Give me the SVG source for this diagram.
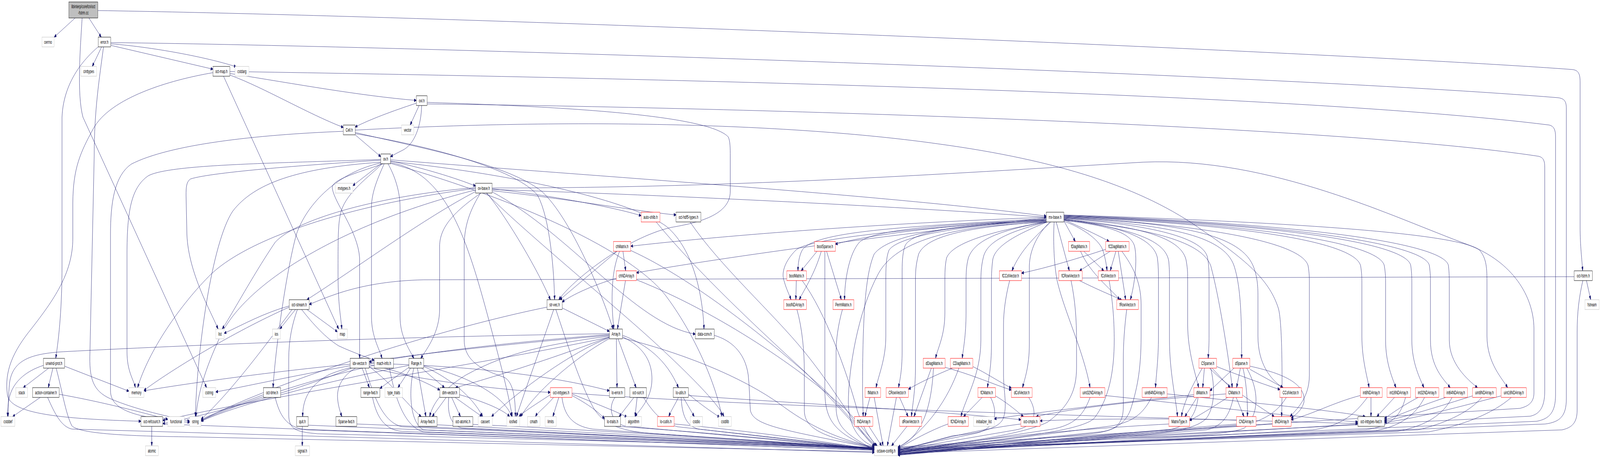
<svg xmlns="http://www.w3.org/2000/svg" width="7559" height="1172" viewBox="0 0 7559 1172" preserveAspectRatio="none">
<style>
svg{width:100vw;height:100vh;max-width:7559px;max-height:1172px}
.e{fill:none;stroke:#191970;stroke-width:1;marker-end:url(#a)}
rect{fill:#fff;stroke-width:1}
.b rect{stroke:#000}
.g rect{stroke:#bfbfbf}
.r rect{stroke:#f00}
text{font-family:"Liberation Sans",Arial,Helvetica,sans-serif;font-size:13px;text-anchor:middle;fill:#000}
</style>
<defs>
<marker id="a" viewBox="0 0 11 8" markerWidth="11" markerHeight="8" refX="10.5" refY="4" orient="auto" markerUnits="userSpaceOnUse"><path d="M0,0L11,4L0,8z" fill="#191970" stroke="#191970" stroke-width="1"/></marker>
</defs>
<rect x="0" y="0" width="7559" height="1172" fill="#fff" stroke="none"/>
<g id="edges">
<path class="e" d="M355,46 L256,95"/>
<path class="e" d="M420,46 L478,95"/>
<path class="e" d="M388,46 C380,120 362,240 392,300 L976,992"/>
<path class="e" d="M462,27 C2500,45 6500,140 7430,178 C7458,180 7465,190 7465,210 L7465,580 C7465,630 7474,665 7477,693"/>
<path class="e" d="M480,120 L436,170"/>
<path class="e" d="M523,112 C750,122 1000,150 1116,171"/>
<path class="e" d="M523,116 L1006,177"/>
<path class="e" d="M466,119 C420,140 300,200 293,300 L293,680 C293,780 280,860 263,917"/>
<path class="e" d="M489,120 C470,200 445,280 445,400 L425,900 C420,970 440,1000 520,1020 C650,1050 800,1066 896,1078"/>
<path class="e" d="M523,109 C2000,118 6000,190 7360,250 C7392,252 7400,260 7400,278 L7400,1020 C7400,1065 7370,1080 7300,1085 L4242,1152"/>
<path class="e" d="M1006,186 C800,205 520,250 440,330 C380,390 345,430 344,520 L344,610 C344,700 250,770 150,840 C60,900 20,950 35,1010 C45,1060 300,1072 666,1078"/>
<path class="e" d="M1056,195 L1600,842"/>
<path class="e" d="M1086,192 C1250,225 1450,290 1622,326"/>
<path class="e" d="M1086,188 C1400,215 1700,245 1967,257"/>
<path class="e" d="M1086,183 C2500,195 6000,230 7320,320 C7342,323 7349,333 7349,350 L7349,1010 C7349,1055 7320,1072 7260,1078 L4242,1148"/>
<path class="e" d="M1980,270 L1938,320"/>
<path class="e" d="M1992,270 C1990,320 1960,370 1900,385 C1878,391 1860,396 1845,401"/>
<path class="e" d="M1967,264 C1850,285 1750,305 1678,325"/>
<path class="e" d="M2018,262 C2800,275 3350,300 3440,350 C3450,360 3450,380 3450,400 L3450,490 C3450,550 3300,570 3170,582 C2950,610 2700,720 2640,767"/>
<path class="e" d="M2018,266 C3500,275 6300,320 7270,400 C7292,403 7298,412 7298,428 L7298,1000 C7298,1045 7270,1060 7230,1065 L4242,1146"/>
<path class="e" d="M1678,345 L1799,401"/>
<path class="e" d="M1622,336 C1200,345 800,370 620,420 C540,450 522,520 522,600 L522,1000 C522,1060 700,1070 896,1081"/>
<path class="e" d="M1678,339 C2000,380 2400,420 2560,490 C2700,560 2850,760 2896,842"/>
<path class="e" d="M1678,342 C2100,380 2450,440 2540,500 C2600,560 2618,700 2620,767"/>
<path class="e" d="M1678,333 C2800,300 3800,320 4430,368 C5000,410 5400,480 5682,590 C5900,670 6000,720 6040,790 C6060,830 6058,1000 6055,1066"/>
<path class="e" d="M1800,419 L1667,475"/>
<path class="e" d="M1805,419 C1750,450 1640,490 1612,540 C1597,570 1597,600 1597,700 C1597,780 1610,810 1615,842"/>
<path class="e" d="M1810,419 C1700,440 1560,460 1570,482 C1580,520 1690,590 1699,660 L1699,917"/>
<path class="e" d="M1815,419 C1790,450 1755,490 1755,530 L1755,810 C1755,860 1790,890 1805,917"/>
<path class="e" d="M1833,419 C1865,450 1890,490 1890,530 L1890,810 C1890,860 1930,890 1955,917"/>
<path class="e" d="M1845,412 C2000,430 2150,455 2247,476"/>
<path class="e" d="M1845,409 C2800,450 4200,500 4943,553"/>
<path class="e" d="M1799,410 C1500,420 1000,440 900,458 C880,465 879,480 879,500 L883,600 C890,700 1000,800 1030,842"/>
<path class="e" d="M1799,408 C1300,418 800,420 700,450 C620,480 600,540 600,650 L600,900 C600,950 630,970 640,992"/>
<path class="e" d="M1799,415 C1400,430 1200,470 1100,540 C1000,620 930,900 923,1066"/>
<path class="e" d="M1845,416 C2100,440 2200,600 2300,800 C2350,900 2400,1000 2420,1066"/>
<path class="e" d="M1799,417 C1600,440 1450,520 1400,600 C1350,700 1300,900 1290,992"/>
<path class="e" d="M1845,413 C2500,450 3000,520 3150,580 C3280,640 3320,760 3326,842"/>
<path class="e" d="M1845,418 C2500,520 3000,650 3150,760 C3300,870 3390,1000 3410,1066"/>
<path class="e" d="M2272,494 C2150,540 2077,580 2077,630 L2077,790 C2077,850 2020,890 1988,917"/>
<path class="e" d="M2270,494 C2230,530 2193,570 2193,630 L2193,870 C2193,930 2300,950 2380,965 C2420,975 2435,1010 2435,1066"/>
<path class="e" d="M2297,494 C2450,580 2900,780 3100,880 C3300,980 3400,1040 3420,1066"/>
<path class="e" d="M2247,490 C2000,560 1700,680 1450,767"/>
<path class="e" d="M2325,485 C3200,500 4300,530 4943,556"/>
<path class="e" d="M2325,483 C2600,500 2900,530 3029,552"/>
<path class="e" d="M2325,488 C2700,510 3000,540 3194,550"/>
<path class="e" d="M2300,494 C2400,560 2550,700 2600,767"/>
<path class="e" d="M2325,491 C2700,600 3000,830 3285,855"/>
<path class="e" d="M2247,480 C1800,500 1400,560 1300,620 C1200,700 1100,800 1050,842"/>
<path class="e" d="M2247,482 C1700,520 1200,600 1000,700 C850,780 700,900 650,992"/>
<path class="e" d="M2247,486 C1700,560 1200,700 1050,850 C980,930 935,1000 926,1066"/>
<path class="e" d="M2325,481 C3500,482 4600,440 5400,415 C6000,400 6600,560 6934,626 C7150,670 7245,760 7247,840 L7247,1005 C7247,1030 7220,1040 7180,1045 L4242,1144"/>
<path class="e" d="M4943,556 C4000,575 3300,610 2980,630"/>
<path class="e" d="M4943,558 C4200,600 3400,660 3007,698"/>
<path class="e" d="M4943,559 C4300,580 3850,590 3790,640 C3775,655 3770,675 3770,693"/>
<path class="e" d="M4943,561 C4300,585 3820,610 3760,640 C3705,670 3690,700 3705,720 C3715,740 3730,755 3737,767"/>
<path class="e" d="M4943,562 C4500,575 4100,600 3947,625"/>
<path class="e" d="M4943,563 C4400,575 4120,590 4060,620 C4010,650 3990,720 3990,767"/>
<path class="e" d="M4943,564 C4600,575 4250,600 4200,640 C4185,660 4185,690 4185,720 L4185,860 C4185,920 4150,960 4139,992"/>
<path class="e" d="M4943,565 C4500,575 4200,600 4130,650 C4090,700 4075,800 4075,1000 L4078,1066"/>
<path class="e" d="M4943,566 C4500,575 4300,595 4275,630 C4262,650 4262,680 4262,700 L4262,900 C4262,950 4250,975 4245,992"/>
<path class="e" d="M4943,567 C4600,580 4380,600 4340,650 C4325,680 4325,700 4325,720 L4325,940 C4325,1000 4310,1040 4306,1066"/>
<path class="e" d="M4943,568 C4700,590 4500,620 4472,660 C4464,680 4464,700 4464,720 L4464,800 C4464,860 4430,890 4420,917"/>
<path class="e" d="M4945,568 C4700,590 4600,620 4575,660 C4565,680 4564,700 4564,720 L4564,800 C4564,860 4550,895 4546,917"/>
<path class="e" d="M4946,568 C4750,595 4660,620 4645,660 C4636,680 4634,700 4634,720 L4634,870 C4634,960 4560,1020 4540,1066"/>
<path class="e" d="M4948,568 C4800,600 4700,630 4690,665 C4684,690 4684,710 4684,730 L4684,880 C4684,940 4670,970 4665,992"/>
<path class="e" d="M4965,568 C4900,600 4820,640 4781,693"/>
<path class="e" d="M4960,568 C4900,600 4865,640 4863,680 L4863,880 C4863,940 4840,970 4831,992"/>
<path class="e" d="M4943,569 C4600,575 4250,600 4150,700 C4050,800 4008,950 4008,1030 C4008,1090 4060,1130 4131,1143"/>
<path class="e" d="M5026,565 L5080,618"/>
<path class="e" d="M5026,562 C5100,580 5200,605 5240,618"/>
<path class="e" d="M4990,568 L5052,693"/>
<path class="e" d="M5026,566 C5100,580 5190,610 5210,640 C5222,660 5228,680 5230,693"/>
<path class="e" d="M5026,564 C5200,575 5340,590 5360,630 C5375,665 5360,730 5340,767"/>
<path class="e" d="M4980,568 C4975,620 4980,680 4995,720 C5030,800 5120,900 5150,992"/>
<path class="e" d="M5026,560 C5300,580 5450,610 5468,660 C5473,680 5473,700 5473,720 L5473,860 C5473,920 5462,960 5459,992"/>
<path class="e" d="M5026,562 C5350,585 5510,615 5522,670 C5525,690 5525,700 5525,720 L5525,870 C5525,950 5555,1020 5563,1066"/>
<path class="e" d="M5026,561 C5400,580 5590,610 5605,670 C5611,690 5611,700 5611,720 L5611,830 C5611,900 5650,960 5663,992"/>
<path class="e" d="M5026,559 C5450,575 5690,610 5705,660 C5712,680 5712,700 5712,720 L5712,860 C5712,890 5709,905 5708,917"/>
<path class="e" d="M5026,558 C5500,575 5780,600 5830,680 C5860,730 5866,800 5866,917"/>
<path class="e" d="M5026,563 C5450,585 5680,620 5720,680 C5760,760 5800,900 5822,992"/>
<path class="e" d="M5026,557 C5500,570 5850,590 5920,680 C5943,710 5943,740 5943,760 L5943,860 C5943,930 6000,970 6060,992"/>
<path class="e" d="M5026,556 C5700,575 6150,620 6180,680 C6186,700 6186,710 6186,730 L6186,960 C6186,1020 6120,1050 6095,1066"/>
<path class="e" d="M5026,555 C5900,575 6400,620 6428,680 C6434,700 6434,710 6434,730 L6434,860 C6434,920 6460,965 6468,992"/>
<path class="e" d="M5026,554 C6000,575 6520,625 6540,680 C6546,700 6546,710 6546,730 L6546,870 C6546,930 6580,970 6595,992"/>
<path class="e" d="M5026,553 C6100,575 6650,625 6665,680 C6670,700 6670,710 6670,730 L6670,870 C6670,930 6710,970 6727,992"/>
<path class="e" d="M5026,552 C6200,575 6740,630 6753,680 C6758,700 6758,710 6758,730 L6758,870 C6758,940 6820,970 6851,992"/>
<path class="e" d="M5026,551 C6300,575 6830,630 6843,680 C6847,700 6847,710 6847,730 L6847,870 C6847,930 6930,970 6980,992"/>
<path class="e" d="M5026,550 C6200,570 6900,600 6990,640 C7020,660 7025,680 7025,720 L7025,860 C7025,930 7100,970 7122,992"/>
<path class="e" d="M3860,643 L3785,693"/>
<path class="e" d="M3762,718 L3760,767"/>
<path class="e" d="M3880,643 C3850,700 3800,740 3776,767"/>
<path class="e" d="M3905,643 L3975,767"/>
<path class="e" d="M4110,1017 L4086,1066"/>
<path class="e" d="M4250,1017 L4290,1066"/>
<path class="e" d="M4400,942 L4318,1066"/>
<path class="e" d="M4465,940 C4600,960 4700,985 4778,998"/>
<path class="e" d="M4596,938 C4660,955 4730,980 4778,993"/>
<path class="e" d="M4500,942 C4420,960 4340,980 4292,996"/>
<path class="e" d="M4640,1017 L4552,1066"/>
<path class="e" d="M4703,1013 C4770,1035 4810,1055 4835,1066"/>
<path class="e" d="M5224,638 C5100,660 4950,685 4826,699"/>
<path class="e" d="M5120,643 L5215,693"/>
<path class="e" d="M5272,643 L5245,693"/>
<path class="e" d="M5245,643 L5100,693"/>
<path class="e" d="M5105,643 C5150,700 5250,740 5290,767"/>
<path class="e" d="M5283,643 L5318,767"/>
<path class="e" d="M5100,718 C5180,740 5250,755 5300,768"/>
<path class="e" d="M5690,942 L5682,992"/>
<path class="e" d="M5726,942 L5812,992"/>
<path class="e" d="M5748,938 C5850,960 5980,985 6047,997"/>
<path class="e" d="M5714,942 C5800,990 5950,1040 6020,1066"/>
<path class="e" d="M5830,942 L5716,1000"/>
<path class="e" d="M5860,942 L5842,992"/>
<path class="e" d="M5872,942 C5890,980 5895,1040 5893,1066"/>
<path class="e" d="M5905,945 L6062,992"/>
<path class="e" d="M5905,937 C6100,960 6170,990 6160,1030 C6150,1050 6120,1062 6100,1070"/>
<path class="e" d="M5840,1017 L5877,1066"/>
<path class="e" d="M5655,1017 L5598,1066"/>
<path class="e" d="M5680,942 C5640,980 5590,1030 5582,1066"/>
<path class="e" d="M5800,1017 C5720,1045 5660,1065 5620,1076"/>
<path class="e" d="M5792,1008 C5500,1020 5100,1040 4895,1066"/>
<path class="e" d="M5842,1075 C5500,1070 5100,1072 4914,1077"/>
<path class="e" d="M5640,1010 C5300,1030 4900,1055 4697,1072"/>
<path class="e" d="M6477,1017 L6477,1066"/>
<path class="e" d="M6588,1017 L6505,1066"/>
<path class="e" d="M6700,1017 C6620,1040 6570,1060 6541,1071"/>
<path class="e" d="M6830,1017 C6700,1040 6600,1065 6541,1075"/>
<path class="e" d="M6957,1013 C6800,1040 6650,1065 6541,1078"/>
<path class="e" d="M7092,1013 C6900,1040 6700,1070 6541,1081"/>
<path class="e" d="M5514,1008 C5900,1030 6300,1050 6450,1066"/>
<path class="e" d="M5220,1012 C5700,1040 6100,1065 6415,1080"/>
<path class="e" d="M2702,1006 C3500,1040 5500,1070 6415,1084"/>
<path class="e" d="M6427,1012 C6300,1030 6200,1060 6100,1074"/>
<path class="e" d="M7495,718 L7515,767"/>
<path class="e" d="M7437,708 L2000,716 C1700,720 1550,760 1461,779"/>
<path class="e" d="M7478,718 C7460,760 7451,800 7451,850 L7451,1050 C7451,1085 7420,1095 7380,1100 L4242,1160"/>
<path class="e" d="M2915,643 L2645,767"/>
<path class="e" d="M2927,643 C2900,680 2890,720 2892,780 C2894,810 2898,830 2900,842"/>
<path class="e" d="M2943,643 L2956,693"/>
<path class="e" d="M2955,718 L2917,842"/>
<path class="e" d="M2912,712 C2800,730 2700,755 2656,773"/>
<path class="e" d="M2656,788 L2879,848"/>
<path class="e" d="M2616,792 C2560,880 2480,1000 2440,1066"/>
<path class="e" d="M2584,786 C2000,850 1200,1000 950,1077"/>
<path class="e" d="M2912,867 L2915,992"/>
<path class="e" d="M2920,867 L3005,992"/>
<path class="e" d="M2941,862 C3050,890 3080,930 3080,970 C3080,1020 3020,1050 3000,1066"/>
<path class="e" d="M2879,864 C2700,900 2450,1000 2322,1066"/>
<path class="e" d="M2880,866 C2700,920 2520,1010 2460,1066"/>
<path class="e" d="M2879,862 C2600,920 2300,970 2152,992"/>
<path class="e" d="M2879,858 C2400,880 1900,910 1744,926"/>
<path class="e" d="M2879,860 C2600,880 2400,900 2200,960 C2080,1000 2040,1040 2030,1066"/>
<path class="e" d="M2879,856 C2300,880 1700,920 1550,960 C1450,990 1430,1030 1430,1066"/>
<path class="e" d="M2941,858 C3050,880 3150,920 3205,992"/>
<path class="e" d="M2879,863 C2200,940 1300,1010 769,1076"/>
<path class="e" d="M2879,854 C2000,860 1000,880 300,900 C150,905 60,920 45,980 C40,1010 38,1040 38,1066"/>
<path class="e" d="M1711,942 L1745,992"/>
<path class="e" d="M1680,942 C1620,960 1590,990 1595,1020 C1598,1040 1608,1055 1615,1066"/>
<path class="e" d="M1744,933 C1900,950 2000,975 2078,998"/>
<path class="e" d="M1744,938 C1850,980 1950,1050 1990,1066"/>
<path class="e" d="M1654,932 C1300,950 900,980 680,1000"/>
<path class="e" d="M1654,936 C1400,960 1150,990 1019,1003"/>
<path class="e" d="M1744,940 C2000,975 2400,1000 2600,1004"/>
<path class="e" d="M1744,930 C2200,935 2600,960 2879,1000"/>
<path class="e" d="M1660,942 C1400,1000 1000,1060 769,1084"/>
<path class="e" d="M1768,935 C1400,980 1100,1040 950,1076"/>
<path class="e" d="M1940,942 L1880,992"/>
<path class="e" d="M1932,940 C1880,960 1830,980 1795,994"/>
<path class="e" d="M1396,792 L1322,842"/>
<path class="e" d="M1450,792 L1594,849"/>
<path class="e" d="M1425,792 C1480,830 1540,865 1600,885 C1680,905 1740,915 1768,922"/>
<path class="e" d="M1366,783 C1250,800 1150,830 1059,853"/>
<path class="e" d="M1380,792 C1300,850 1100,1000 950,1073"/>
<path class="e" d="M1366,786 C1100,850 800,950 680,999"/>
<path class="e" d="M1405,792 C1380,830 1364,870 1364,920 L1364,1060 C1364,1100 1400,1105 1500,1110 L4131,1146"/>
<path class="e" d="M1245,1010 C1100,1040 1000,1060 950,1074"/>
<path class="e" d="M1992,942 L2100,992"/>
<path class="e" d="M1972,942 L2012,1066"/>
<path class="e" d="M2002,938 C2100,960 2230,1010 2280,1066"/>
<path class="e" d="M2002,936 C2200,960 2380,1010 2418,1066"/>
<path class="e" d="M1932,935 C1500,980 1100,1040 950,1078"/>
<path class="e" d="M2108,1017 L2042,1066"/>
<path class="e" d="M2134,1017 L2175,1066"/>
<path class="e" d="M2150,1017 L2277,1066"/>
<path class="e" d="M2171,1010 C2300,1030 2380,1050 2408,1066"/>
<path class="e" d="M2640,1017 L2612,1066"/>
<path class="e" d="M2702,1012 C2780,1035 2830,1055 2856,1072"/>
<path class="e" d="M2702,1008 C2800,1030 2900,1050 2962,1067"/>
<path class="e" d="M2615,1017 C2580,1040 2540,1055 2530,1066"/>
<path class="e" d="M2600,1010 C2530,1035 2470,1055 2452,1066"/>
<path class="e" d="M2995,1017 L2925,1066"/>
<path class="e" d="M3010,1017 L3000,1066"/>
<path class="e" d="M3228,1017 L3280,1066"/>
<path class="e" d="M3252,1008 C3320,1040 3380,1060 3400,1068"/>
<path class="e" d="M3205,1017 C3190,1035 3170,1050 3160,1066"/>
<path class="e" d="M3252,1012 C3700,1030 4400,1050 4823,1074"/>
<path class="e" d="M230,942 L110,992"/>
<path class="e" d="M250,942 L228,992"/>
<path class="e" d="M305,937 L609,1001"/>
<path class="e" d="M205,935 C120,950 50,980 40,1030 C37,1045 36,1055 36,1066"/>
<path class="e" d="M190,1017 L60,1066"/>
<path class="e" d="M280,1009 C500,1030 700,1060 793,1073"/>
<path class="e" d="M717,1091 L717,1141"/>
<path class="e" d="M1428,1091 L1428,1141"/>
<path class="e" d="M265,942 C290,990 310,1060 340,1090 C380,1110 600,1116 900,1118 L4131,1156"/>
<path class="e" d="M225,1017 C260,1060 290,1092 340,1098 L4131,1158"/>
<path class="e" d="M769,1085 C1500,1100 3000,1130 4131,1152"/>
<path class="e" d="M1456,1088 C2200,1105 3200,1125 4131,1151"/>
<path class="e" d="M1686,1085 C2400,1100 3300,1125 4131,1150"/>
<path class="e" d="M2065,1087 C2700,1105 3500,1125 4131,1149"/>
<path class="e" d="M2234,1086 C2800,1100 3500,1125 4131,1148"/>
<path class="e" d="M2120,1017 C2115,1050 2120,1085 2180,1095 L4131,1147"/>
<path class="e" d="M1955,942 C1930,1000 1935,1080 2000,1100 L4131,1146"/>
<path class="e" d="M1725,942 C1760,1000 1800,1080 1900,1092 L4131,1145"/>
<path class="e" d="M1840,942 C1860,1000 1900,1090 2000,1105 L4131,1147"/>
<path class="e" d="M1760,1017 C1780,1070 1820,1100 1900,1104 L4131,1149"/>
<path class="e" d="M1300,1017 C1320,1060 1350,1095 1450,1100 L4131,1152"/>
<path class="e" d="M2626,792 C2680,880 2740,980 2800,1040 C2850,1090 2950,1105 3100,1110 L4131,1147"/>
<path class="e" d="M2941,865 C3200,900 3500,960 3700,1040 C3850,1100 4000,1130 4131,1144"/>
<path class="e" d="M2655,1017 C2665,1060 2700,1090 2800,1098 L4131,1150"/>
<path class="e" d="M2905,1017 C2870,1045 2890,1080 2950,1090 L4131,1149"/>
<path class="e" d="M3040,1017 C3080,1050 3120,1080 3200,1092 L4131,1148"/>
<path class="e" d="M2920,1091 C3300,1105 3800,1130 4131,1150"/>
<path class="e" d="M3218,1017 C3222,1060 3240,1090 3300,1098 L4131,1150"/>
<path class="e" d="M3185,1085 C3500,1100 3900,1130 4131,1151"/>
<path class="e" d="M3374,858 C3450,870 3520,900 3535,960 C3541,990 3541,1020 3545,1050 C3560,1090 3700,1100 4131,1147"/>
<path class="e" d="M3260,568 C3400,680 3650,800 3800,900 C3950,1000 4050,1100 4131,1143"/>
<path class="e" d="M3100,568 C3300,700 3600,850 3800,950 C3950,1030 4050,1100 4135,1141"/>
<path class="e" d="M2980,641 C3300,720 3700,900 3900,1000 C4000,1060 4080,1110 4138,1141"/>
<path class="e" d="M3007,716 C3400,800 3800,950 4000,1050 C4070,1090 4110,1120 4142,1141"/>
<path class="e" d="M3790,718 C3900,800 4000,950 4050,1050 C4080,1100 4120,1130 4145,1141"/>
<path class="e" d="M3765,792 C3790,840 3800,900 3800,950 L3800,1050 C3800,1100 3900,1120 4131,1145"/>
<path class="e" d="M3897,643 L3897,1000 C3897,1080 3950,1110 4131,1150"/>
<path class="e" d="M3980,792 C3960,830 3950,870 3950,900 L3950,1040 C3950,1090 3990,1110 4131,1151"/>
<path class="e" d="M4130,1017 L4172,1141"/>
<path class="e" d="M4105,1091 L4165,1141"/>
<path class="e" d="M4235,1017 L4192,1141"/>
<path class="e" d="M4285,1091 L4212,1141"/>
<path class="e" d="M4410,942 C4400,1050 4350,1120 4242,1144"/>
<path class="e" d="M4530,942 C4480,1020 4380,1100 4242,1146"/>
<path class="e" d="M4479,1085 C4400,1100 4300,1130 4242,1148"/>
<path class="e" d="M4680,1017 C4720,1060 4700,1100 4600,1110 L4242,1150"/>
<path class="e" d="M4860,1017 C4900,1050 4900,1090 4800,1100 L4242,1152"/>
<path class="e" d="M4823,1085 C4600,1100 4400,1130 4242,1153"/>
<path class="e" d="M4770,718 C4750,760 4741,800 4741,830 L4741,960 C4741,1000 4760,1040 4740,1070 C4720,1100 4600,1110 4500,1115 L4242,1154"/>
<path class="e" d="M5060,718 C5080,770 5086,820 5086,870 L5086,940 C5086,1000 5050,1040 4950,1080 C4800,1120 4400,1140 4242,1155"/>
<path class="e" d="M5240,718 C5260,780 5264,830 5264,870 C5264,950 5240,1020 5170,1070 C5100,1110 4600,1130 4242,1156"/>
<path class="e" d="M5323,792 C5312,840 5307,880 5307,920 L5307,1040 C5307,1080 5280,1100 5200,1105 L4242,1157"/>
<path class="e" d="M5300,643 C5350,680 5391,720 5391,780 L5391,860 C5391,950 5370,1000 5340,1050 C5310,1090 5250,1105 5150,1110 L4242,1158"/>
<path class="e" d="M5150,1017 C5120,1060 5080,1090 4950,1100 L4242,1158"/>
<path class="e" d="M5440,1017 C5400,1060 5350,1080 5250,1090 L4242,1159"/>
<path class="e" d="M5522,1085 C5000,1100 4500,1130 4242,1160"/>
<path class="e" d="M5660,1017 C5650,1060 5620,1090 5520,1100 L4242,1161"/>
<path class="e" d="M5720,942 C5740,990 5740,1040 5700,1070 C5650,1100 5500,1110 5300,1115 L4242,1162"/>
<path class="e" d="M5890,942 C5950,1000 5950,1060 5880,1095 C5800,1115 5500,1118 5300,1120 L4242,1163"/>
<path class="e" d="M5827,1017 C5810,1060 5780,1090 5700,1100 L4242,1164"/>
<path class="e" d="M6077,1017 C6040,1050 5990,1070 5900,1085 L4242,1165"/>
<path class="e" d="M5842,1085 C5500,1100 4800,1130 4242,1164"/>
<path class="e" d="M6011,1085 C5500,1105 4800,1130 4242,1162"/>
<path class="e" d="M6460,1017 C6400,1060 6340,1090 6200,1100 L4242,1160"/>
<path class="e" d="M6640,1017 C6620,1060 6580,1090 6450,1100 L4242,1158"/>
<path class="e" d="M6730,1017 C6690,1060 6620,1090 6500,1102 L4242,1156"/>
<path class="e" d="M6860,1017 C6820,1060 6740,1090 6600,1104 L4242,1154"/>
<path class="e" d="M7000,1017 C6950,1050 6850,1080 6700,1100 L4242,1152"/>
<path class="e" d="M7140,1017 C7050,1060 6900,1090 6750,1105 L4242,1150"/>
<path class="e" d="M6415,1085 C6000,1100 5000,1130 4242,1150"/>
</g>
<g id="node-root"><rect x="325" y="5" width="137" height="41" style="fill:#bfbfbf;stroke:#000"/><text x="393.5" y="21">libinterp/corefcn/oct</text><text x="393.5" y="37">-fstrm.cc</text></g>
<g id="node-cerrno" class="g"><rect x="198" y="95" width="58" height="25"/><text x="227" y="112">cerrno</text></g>
<g id="node-error-h" class="b"><rect x="464" y="95" width="59" height="25"/><text x="493.5" y="112">error.h</text></g>
<g id="node-cinttypes" class="g"><rect x="382" y="170" width="74" height="25"/><text x="419" y="187">cinttypes</text></g>
<g id="node-oct-map-h" class="b"><rect x="1006" y="170" width="80" height="25"/><text x="1046" y="187">oct-map.h</text></g>
<g id="node-cstdarg" class="g"><rect x="1110" y="170" width="66" height="25"/><text x="1143" y="187">cstdarg</text></g>
<g id="node-ovl-h" class="b"><rect x="1967" y="245" width="51" height="25"/><text x="1992.5" y="262">ovl.h</text></g>
<g id="node-Cell-h" class="b"><rect x="1622" y="320" width="56" height="25"/><text x="1650" y="337">Cell.h</text></g>
<g id="node-vector" class="g"><rect x="1897" y="320" width="58" height="25"/><text x="1926" y="337">vector</text></g>
<g id="node-ov-h" class="b"><rect x="1799" y="394" width="46" height="25"/><text x="1822" y="411">ov.h</text></g>
<g id="node-mxtypes-h" class="g"><rect x="1584" y="469" width="83" height="25"/><text x="1625.5" y="486">mxtypes.h</text></g>
<g id="node-ov-base-h" class="b"><rect x="2247" y="469" width="78" height="25"/><text x="2286" y="486">ov-base.h</text></g>
<g id="node-auto-shlib-h" class="r"><rect x="3029" y="543" width="89" height="25"/><text x="3073.5" y="560">auto-shlib.h</text></g>
<g id="node-oct-hdf5-types-h" class="b"><rect x="3194" y="543" width="117" height="25"/><text x="3252.5" y="560">oct-hdf5-types.h</text></g>
<g id="node-mx-base-h" class="b"><rect x="4943" y="543" width="83" height="25"/><text x="4984.5" y="560">mx-base.h</text></g>
<g id="node-chMatrix-h" class="r"><rect x="2898" y="618" width="82" height="25"/><text x="2939" y="635">chMatrix.h</text></g>
<g id="node-boolSparse-h" class="r"><rect x="3848" y="618" width="99" height="25"/><text x="3897.5" y="635">boolSparse.h</text></g>
<g id="node-fDiagMatrix-h" class="r"><rect x="5048" y="618" width="100" height="25"/><text x="5098" y="635">fDiagMatrix.h</text></g>
<g id="node-fCDiagMatrix-h" class="r"><rect x="5224" y="618" width="110" height="25"/><text x="5279" y="635">fCDiagMatrix.h</text></g>
<g id="node-chNDArray-h" class="r"><rect x="2912" y="693" width="95" height="25"/><text x="2959.5" y="710">chNDArray.h</text></g>
<g id="node-boolMatrix-h" class="r"><rect x="3717" y="693" width="93" height="25"/><text x="3763.5" y="710">boolMatrix.h</text></g>
<g id="node-fCColVector-h" class="r"><rect x="4722" y="693" width="104" height="25"/><text x="4774" y="710">fCColVector.h</text></g>
<g id="node-fCRowVector-h" class="r"><rect x="5002" y="693" width="111" height="25"/><text x="5057.5" y="710">fCRowVector.h</text></g>
<g id="node-fColVector-h" class="r"><rect x="5189" y="693" width="95" height="25"/><text x="5236.5" y="710">fColVector.h</text></g>
<g id="node-oct-fstrm-h" class="b"><rect x="7437" y="693" width="86" height="25"/><text x="7480" y="710">oct-fstrm.h</text></g>
<g id="node-oct-stream-h" class="b"><rect x="1366" y="767" width="95" height="25"/><text x="1413.5" y="784">oct-stream.h</text></g>
<g id="node-str-vec-h" class="b"><rect x="2584" y="767" width="72" height="25"/><text x="2620" y="784">str-vec.h</text></g>
<g id="node-boolNDArray-h" class="r"><rect x="3703" y="767" width="107" height="25"/><text x="3756.5" y="784">boolNDArray.h</text></g>
<g id="node-PermMatrix-h" class="r"><rect x="3935" y="767" width="99" height="25"/><text x="3984.5" y="784">PermMatrix.h</text></g>
<g id="node-fRowVector-h" class="r"><rect x="5276" y="767" width="102" height="25"/><text x="5327" y="784">fRowVector.h</text></g>
<g id="node-fstream" class="g"><rect x="7488" y="767" width="67" height="25"/><text x="7521.5" y="784">fstream</text></g>
<g id="node-list" class="g"><rect x="1020" y="842" width="39" height="25"/><text x="1039.5" y="859">list</text></g>
<g id="node-ios" class="g"><rect x="1287" y="842" width="38" height="25"/><text x="1306" y="859">ios</text></g>
<g id="node-map" class="g"><rect x="1594" y="842" width="47" height="25"/><text x="1617.5" y="859">map</text></g>
<g id="node-Array-h" class="b"><rect x="2879" y="842" width="62" height="25"/><text x="2910" y="859">Array.h</text></g>
<g id="node-data-conv-h" class="b"><rect x="3285" y="842" width="89" height="25"/><text x="3329.5" y="859">data-conv.h</text></g>
<g id="node-unwind-prot-h" class="b"><rect x="205" y="917" width="100" height="25"/><text x="255" y="934">unwind-prot.h</text></g>
<g id="node-idx-vector-h" class="b"><rect x="1654" y="917" width="90" height="25"/><text x="1699" y="934">idx-vector.h</text></g>
<g id="node-mach-info-h" class="b"><rect x="1768" y="917" width="91" height="25"/><text x="1813.5" y="934">mach-info.h</text></g>
<g id="node-Range-h" class="b"><rect x="1932" y="917" width="70" height="25"/><text x="1967" y="934">Range.h</text></g>
<g id="node-dDiagMatrix-h" class="r"><rect x="4362" y="917" width="103" height="25"/><text x="4413.5" y="934">dDiagMatrix.h</text></g>
<g id="node-CDiagMatrix-h" class="r"><rect x="4490" y="917" width="106" height="25"/><text x="4543" y="934">CDiagMatrix.h</text></g>
<g id="node-CSparse-h" class="r"><rect x="5664" y="917" width="84" height="25"/><text x="5706" y="934">CSparse.h</text></g>
<g id="node-dSparse-h" class="r"><rect x="5824" y="917" width="81" height="25"/><text x="5864.5" y="934">dSparse.h</text></g>
<g id="node-stack" class="g"><rect x="75" y="992" width="55" height="25"/><text x="102.5" y="1009">stack</text></g>
<g id="node-action-container-h" class="b"><rect x="154" y="992" width="126" height="25"/><text x="217" y="1009">action-container.h</text></g>
<g id="node-memory" class="g"><rect x="609" y="992" width="71" height="25"/><text x="644.5" y="1009">memory</text></g>
<g id="node-cstring" class="g"><rect x="958" y="992" width="61" height="25"/><text x="988.5" y="1009">cstring</text></g>
<g id="node-oct-time-h" class="b"><rect x="1245" y="992" width="81" height="25"/><text x="1285.5" y="1009">oct-time.h</text></g>
<g id="node-range-fwd-h" class="b"><rect x="1705" y="992" width="90" height="25"/><text x="1750" y="1009">range-fwd.h</text></g>
<g id="node-type_traits" class="g"><rect x="1819" y="992" width="83" height="25"/><text x="1860.5" y="1009">type_traits</text></g>
<g id="node-dim-vector-h" class="b"><rect x="2078" y="992" width="93" height="25"/><text x="2124.5" y="1009">dim-vector.h</text></g>
<g id="node-oct-inttypes-h" class="r"><rect x="2600" y="992" width="102" height="25"/><text x="2651" y="1009">oct-inttypes.h</text></g>
<g id="node-lo-error-h" class="b"><rect x="2879" y="992" width="73" height="25"/><text x="2915.5" y="1009">lo-error.h</text></g>
<g id="node-oct-sort-h" class="b"><rect x="2976" y="992" width="78" height="25"/><text x="3015" y="1009">oct-sort.h</text></g>
<g id="node-lo-utils-h" class="b"><rect x="3181" y="992" width="71" height="25"/><text x="3216.5" y="1009">lo-utils.h</text></g>
<g id="node-fMatrix-h" class="r"><rect x="4087" y="992" width="74" height="25"/><text x="4124" y="1009">fMatrix.h</text></g>
<g id="node-CRowVector-h" class="r"><rect x="4186" y="992" width="106" height="25"/><text x="4239" y="1009">CRowVector.h</text></g>
<g id="node-fCMatrix-h" class="r"><rect x="4620" y="992" width="83" height="25"/><text x="4661.5" y="1009">fCMatrix.h</text></g>
<g id="node-dColVector-h" class="r"><rect x="4778" y="992" width="98" height="25"/><text x="4827" y="1009">dColVector.h</text></g>
<g id="node-uint32NDArray-h" class="r"><rect x="5103" y="992" width="117" height="25"/><text x="5161.5" y="1009">uint32NDArray.h</text></g>
<g id="node-uint64NDArray-h" class="r"><rect x="5396" y="992" width="118" height="25"/><text x="5455" y="1009">uint64NDArray.h</text></g>
<g id="node-dMatrix-h" class="r"><rect x="5640" y="992" width="76" height="25"/><text x="5678" y="1009">dMatrix.h</text></g>
<g id="node-CMatrix-h" class="r"><rect x="5792" y="992" width="78" height="25"/><text x="5831" y="1009">CMatrix.h</text></g>
<g id="node-CColVector-h" class="r"><rect x="6047" y="992" width="101" height="25"/><text x="6097.5" y="1009">CColVector.h</text></g>
<g id="node-int8NDArray-h" class="r"><rect x="6427" y="992" width="103" height="25"/><text x="6478.5" y="1009">int8NDArray.h</text></g>
<g id="node-int16NDArray-h" class="r"><rect x="6553" y="992" width="111" height="25"/><text x="6608.5" y="1009">int16NDArray.h</text></g>
<g id="node-int32NDArray-h" class="r"><rect x="6687" y="992" width="111" height="25"/><text x="6742.5" y="1009">int32NDArray.h</text></g>
<g id="node-int64NDArray-h" class="r"><rect x="6822" y="992" width="111" height="25"/><text x="6877.5" y="1009">int64NDArray.h</text></g>
<g id="node-uint8NDArray-h" class="r"><rect x="6957" y="992" width="112" height="25"/><text x="7013" y="1009">uint8NDArray.h</text></g>
<g id="node-uint16NDArray-h" class="r"><rect x="7092" y="992" width="119" height="25"/><text x="7151.5" y="1009">uint16NDArray.h</text></g>
<g id="node-cstddef" class="g"><rect x="5" y="1066" width="65" height="25"/><text x="37.5" y="1083">cstddef</text></g>
<g id="node-oct-refcount-h" class="b"><rect x="666" y="1066" width="103" height="25"/><text x="717.5" y="1083">oct-refcount.h</text></g>
<g id="node-functional" class="g"><rect x="793" y="1066" width="78" height="25"/><text x="832" y="1083">functional</text></g>
<g id="node-string" class="g"><rect x="896" y="1066" width="54" height="25"/><text x="923" y="1083">string</text></g>
<g id="node-quit-h" class="b"><rect x="1401" y="1066" width="55" height="25"/><text x="1428.5" y="1083">quit.h</text></g>
<g id="node-Sparse-fwd-h" class="b"><rect x="1587" y="1066" width="99" height="25"/><text x="1636.5" y="1083">Sparse-fwd.h</text></g>
<g id="node-Array-fwd-h" class="b"><rect x="1976" y="1066" width="89" height="25"/><text x="2020.5" y="1083">Array-fwd.h</text></g>
<g id="node-oct-atomic-h" class="b"><rect x="2140" y="1066" width="94" height="25"/><text x="2187" y="1083">oct-atomic.h</text></g>
<g id="node-cassert" class="g"><rect x="2259" y="1066" width="67" height="25"/><text x="2292.5" y="1083">cassert</text></g>
<g id="node-iosfwd" class="g"><rect x="2394" y="1066" width="61" height="25"/><text x="2424.5" y="1083">iosfwd</text></g>
<g id="node-cmath" class="g"><rect x="2492" y="1066" width="59" height="25"/><text x="2521.5" y="1083">cmath</text></g>
<g id="node-limits" class="g"><rect x="2575" y="1066" width="53" height="25"/><text x="2601.5" y="1083">limits</text></g>
<g id="node-lo-traits-h" class="b"><rect x="2856" y="1066" width="76" height="25"/><text x="2894" y="1083">lo-traits.h</text></g>
<g id="node-algorithm" class="g"><rect x="2956" y="1066" width="75" height="25"/><text x="2993.5" y="1083">algorithm</text></g>
<g id="node-lo-cutils-h" class="r"><rect x="3106" y="1066" width="79" height="25"/><text x="3145.5" y="1083">lo-cutils.h</text></g>
<g id="node-cstdio" class="g"><rect x="3261" y="1066" width="58" height="25"/><text x="3290" y="1083">cstdio</text></g>
<g id="node-cstdlib" class="g"><rect x="3395" y="1066" width="60" height="25"/><text x="3425" y="1083">cstdlib</text></g>
<g id="node-fNDArray-h" class="r"><rect x="4037" y="1066" width="87" height="25"/><text x="4080.5" y="1083">fNDArray.h</text></g>
<g id="node-dRowVector-h" class="r"><rect x="4250" y="1066" width="104" height="25"/><text x="4302" y="1083">dRowVector.h</text></g>
<g id="node-fCNDArray-h" class="r"><rect x="4479" y="1066" width="96" height="25"/><text x="4527" y="1083">fCNDArray.h</text></g>
<g id="node-initializer_list" class="g"><rect x="4600" y="1066" width="97" height="25"/><text x="4648.5" y="1083">initializer_list</text></g>
<g id="node-oct-cmplx-h" class="r"><rect x="4823" y="1066" width="91" height="25"/><text x="4868.5" y="1083">oct-cmplx.h</text></g>
<g id="node-MatrixType-h" class="r"><rect x="5522" y="1066" width="98" height="25"/><text x="5571" y="1083">MatrixType.h</text></g>
<g id="node-CNDArray-h" class="r"><rect x="5842" y="1066" width="92" height="25"/><text x="5888" y="1083">CNDArray.h</text></g>
<g id="node-dNDArray-h" class="r"><rect x="6011" y="1066" width="89" height="25"/><text x="6055.5" y="1083">dNDArray.h</text></g>
<g id="node-oct-inttypes-fwd-h" class="b"><rect x="6415" y="1066" width="126" height="25"/><text x="6478" y="1083">oct-inttypes-fwd.h</text></g>
<g id="node-atomic" class="g"><rect x="687" y="1141" width="61" height="25"/><text x="717.5" y="1158">atomic</text></g>
<g id="node-signal-h" class="g"><rect x="1395" y="1141" width="67" height="25"/><text x="1428.5" y="1158">signal.h</text></g>
<g id="node-octave-config-h" class="g"><rect x="4131" y="1141" width="111" height="25"/><text x="4186.5" y="1158">octave-config.h</text></g>
</svg>
